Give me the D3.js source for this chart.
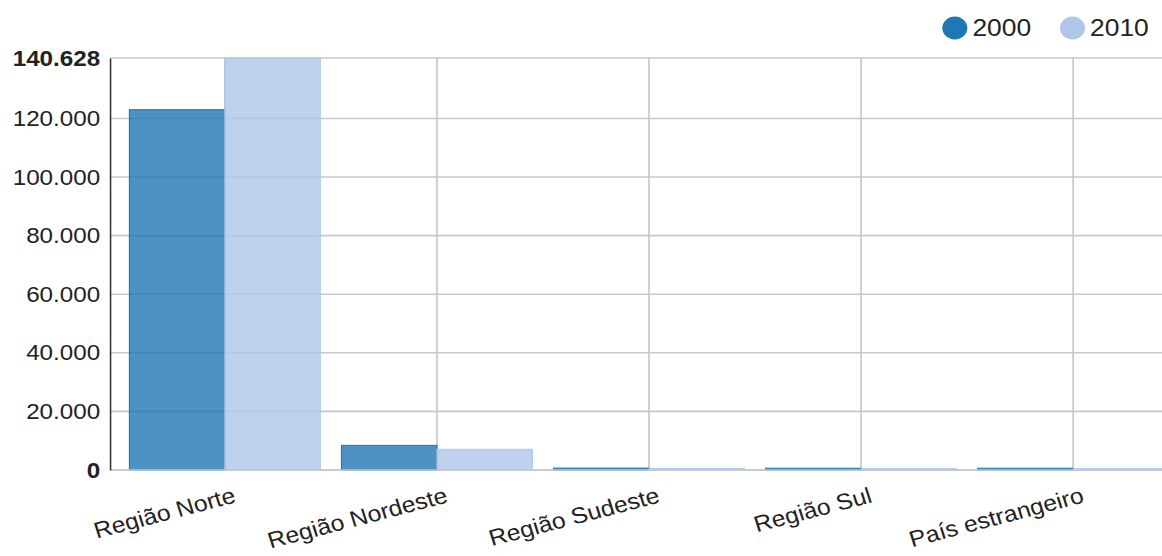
<!DOCTYPE html>
<html><head><meta charset="utf-8">
<script src="https://cdn.jsdelivr.net/npm/d3@7"></script>
<style>
html,body{margin:0;padding:0;background:#fff;}
svg{display:block;}
text{font-family:"Liberation Sans",Arial,sans-serif;fill:#222;}
</style></head>
<body>
<svg id="chart" width="1162" height="556"></svg>
<script>
const categories = ["Região Norte", "Região Nordeste", "Região Sudeste", "Região Sul", "País estrangeiro"];
const seriesNames = ["2000", "2010"];
const values2000 = [123000, 8400, 650, 600, 600];
const values2010 = [140628, 7050, 500, 450, 450];
const yTicks = [0, 20000, 40000, 60000, 80000, 100000, 120000, 140628];
const colors = ["#1f77b4", "#aec7e8"];

(function () {
const SX = 1.1;                  // horizontal stretch of the picture
const W = 1162 / SX, H = 556;
const svg = d3.select("#chart")
  .attr("viewBox", `0 0 ${W} ${H}`)
  .attr("preserveAspectRatio", "none");

const mLeft = 100, mTop = 58, mBottom = 470, mRight = W + 20;
const locale = d3.formatLocale({decimal: ",", thousands: ".", grouping: [3], currency: ["R$", ""]});
const fmt = locale.format(",d");

const x = d3.scaleBand().domain(categories).range([108, 1072]).paddingInner(0.1).paddingOuter(0.05);
const xs = d3.scaleBand().domain(seriesNames).range([0, x.bandwidth()]);
const y = d3.scaleLinear().domain([0, 140628]).range([mBottom, mTop]);

svg.append("g").selectAll("line").data(yTicks).join("line")
  .attr("x1", mLeft).attr("x2", mRight)
  .attr("y1", d => y(d)).attr("y2", d => y(d))
  .attr("stroke", "#c8c8c8").attr("stroke-width", 1.6);
svg.append("g").selectAll("line").data(categories).join("line")
  .attr("x1", d => x(d) + x.bandwidth() / 2).attr("x2", d => x(d) + x.bandwidth() / 2)
  .attr("y1", mTop).attr("y2", mBottom)
  .attr("stroke", "#c8c8c8").attr("stroke-width", 1.5);

const series = [values2000, values2010];
seriesNames.forEach((s, si) => {
  svg.append("g").selectAll("rect").data(categories).join("rect")
    .attr("x", d => x(d) + xs(s))
    .attr("width", xs.bandwidth())
    .attr("y", (d, i) => y(series[si][i]))
    .attr("height", (d, i) => mBottom - y(series[si][i]))
    .attr("fill", colors[si]).attr("fill-opacity", 0.8)
    .attr("stroke", colors[si]).attr("stroke-width", 1);
});

svg.append("line").attr("x1", mLeft).attr("x2", mRight).attr("y1", mBottom).attr("y2", mBottom)
  .attr("stroke", "#c8c8c8").attr("stroke-width", 1.6);

const yAxis = d3.axisLeft(y).tickValues(yTicks).tickSize(0).tickPadding(9).tickFormat(d => fmt(d));
const ga = svg.append("g").attr("transform", `translate(${mLeft},0)`).call(yAxis);
ga.select(".domain").attr("stroke", "#333").attr("stroke-width", 1.4);
ga.selectAll("text").style("font-size", "22px").attr("fill", "#222")
  .style("font-weight", d => (d === 0 || d === 140628) ? "bold" : "normal");

svg.append("g").selectAll("text").data(categories).join("text")
  .attr("transform", d => `translate(${x(d) + x.bandwidth() / 2 + 11},502) rotate(-16)`)
  .attr("text-anchor", "end")
  .style("font-size", "22.5px")
  .text(d => d);

const legX = [868, 975];
const lg = svg.append("g");
seriesNames.forEach((s, i) => {
  lg.append("circle").attr("cx", legX[i]).attr("cy", 28).attr("r", 11.4).attr("fill", colors[i]);
  lg.append("text").attr("x", legX[i] + 16).attr("y", 28).attr("dy", "0.35em")
    .style("font-size", "24px").text(s);
});
})();
</script>
</body></html>
